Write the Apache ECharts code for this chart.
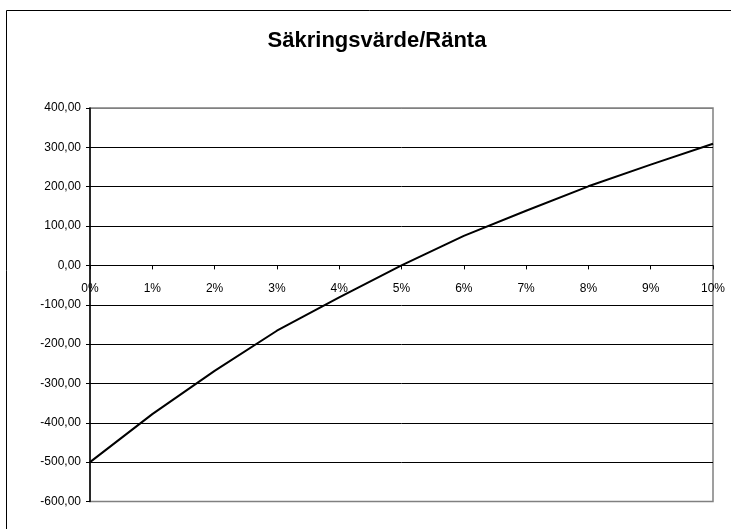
<!DOCTYPE html>
<html>
<head>
<meta charset="utf-8">
<script src="https://cdn.jsdelivr.net/npm/echarts@6/dist/echarts.min.js"></script>
<style>
html,body{margin:0;padding:0;background:#fff;}
#chart{width:731px;height:529px;}
</style>
</head>
<body>
<div id="chart"></div>
<script>
const titleText = 'Säkringsvärde/Ränta';
const categories = ['0%','1%','2%','3%','4%','5%','6%','7%','8%','9%','10%'];
const values = [-500, -378, -268, -166, -81, 0, 75, 139, 201, 256, 309];
const yMin = -600, yMax = 400, yStep = 100;

const gridTop = 108, gridBottomY = 501.5;
const zeroY = gridTop + (gridBottomY - gridTop) * (yMax - 0) / (yMax - yMin);
const splitColors = [];
for (let v = yMin; v <= yMax; v += yStep) splitColors.push((v === yMin || v === yMax) ? '#808080' : '#000');

const chart = echarts.init(document.getElementById('chart'), null, {renderer: 'canvas'});
const font = '"Liberation Sans", Arial, sans-serif';
chart.setOption({
  animation: false,
  backgroundColor: '#ffffff',
  graphic: [
    { type: 'rect', shape: {x: 6.5, y: 10.5, width: 900, height: 700}, style: {fill: 'none', stroke: '#000', lineWidth: 1}, silent: true, z: -10 },
    { type: 'rect', shape: {x: 90, y: 108, width: 623, height: 393.5}, style: {fill: 'none', stroke: '#808080', lineWidth: 1.5}, silent: true, z: -5 },
    { type: 'text', x: 377, y: 30, style: {text: titleText, font: 'bold 22px ' + font, fill: '#000', textAlign: 'center', textVerticalAlign: 'top'} }
  ],
  grid: {left: 90, right: 18, top: gridTop, bottom: 529 - gridBottomY, containLabel: false},
  xAxis: {
    type: 'category',
    data: categories,
    boundaryGap: false,
    position: 'bottom',
    offset: -(gridBottomY - zeroY),
    axisLine: {onZero: false, lineStyle: {color: '#000', width: 1}},
    axisTick: {show: true, inside: false, length: 4, alignWithLabel: true, lineStyle: {color: '#000'}},
    axisLabel: {color: '#000', fontSize: 12, fontFamily: font, margin: 17, interval: 0},
    splitLine: {show: false}
  },
  yAxis: {
    type: 'value',
    min: yMin, max: yMax, interval: yStep,
    axisLine: {show: true, lineStyle: {color: '#000', width: 1.5}},
    axisTick: {show: true, inside: false, length: 4, lineStyle: {color: '#000'}},
    axisLabel: {color: '#000', fontSize: 12, fontFamily: font, margin: 9,
      formatter: v => v.toFixed(2).replace('.', ',')},
    splitLine: {show: true, lineStyle: {color: splitColors, width: 1}}
  },
  series: [{
    type: 'line',
    data: values,
    symbol: 'none',
    lineStyle: {color: '#000', width: 2},
    z: 5
  }]
});
</script>
</body>
</html>
